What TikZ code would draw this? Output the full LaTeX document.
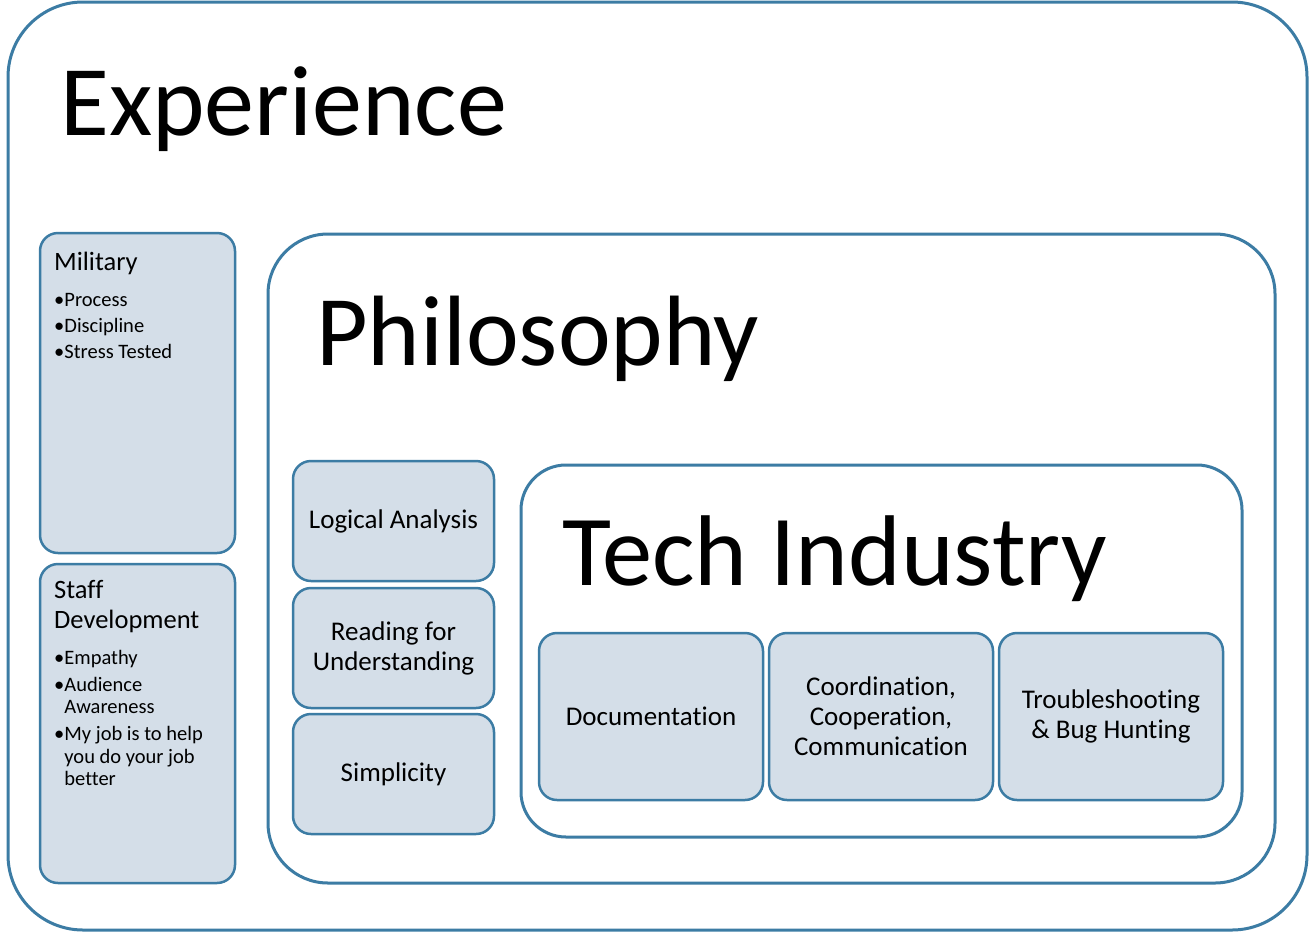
\documentclass[tikz,border=0pt]{standalone}
\usepackage{fontspec}
\setmainfont[Ligatures=NoCommon]{Carlito}
\definecolor{edgeblue}{RGB}{60,124,164}
\definecolor{itemfill}{RGB}{212,222,232}
\tikzset{
  levelbox/.style={draw=edgeblue, line width=3pt, fill=white, inner sep=0pt},
  itembox/.style={draw=edgeblue, line width=2.5pt, fill=itemfill, rounded corners=18pt,
    inner sep=0pt, align=center, font=\fontsize{27}{30}\selectfont},
  bigtitle/.style={anchor=base west, inner sep=0pt, font=\fontsize{100}{120}\selectfont},
  sidetitle/.style={anchor=base west, inner sep=0pt, align=left, font=\fontsize{26.5}{30}\selectfont},
  sidelist/.style={anchor=base west, inner sep=0pt, font=\fontsize{20.5}{22.5}\selectfont}
}

\begin{document}
\begin{tikzpicture}[x=1pt,y=-1pt]
\useasboundingbox (0,0) rectangle (1309,932);

% nested levels
\node[levelbox, rounded corners=75pt, minimum width=1299pt, minimum height=928pt] (exp) at (657.5,466) {};
\node[levelbox, rounded corners=60pt, minimum width=1007pt, minimum height=649pt] (phil) at (771.5,558.5) {};
\node[levelbox, rounded corners=45pt, minimum width=721pt, minimum height=372pt] (tech) at (881.5,651) {};

\node[bigtitle] (exptitle) at (60,135) {Experience};
\node[bigtitle] (philtitle) at (316,365) {Philosophy};
\node[bigtitle, font=\fontsize{100.5}{120}\selectfont] (techtitle) at (562,585) {Tech Industry};

% side boxes
\node[itembox, minimum width=195pt, minimum height=320pt] (mil) at (137.5,393) {};
\node[itembox, minimum width=195pt, minimum height=319pt] (staff) at (137.5,723.5) {};

\node[sidetitle] (miltitle) at (54,270) {Military};
\node[sidelist] (millist) at (54,306) {\begin{tabular}[t]{@{}l@{}l@{}}
  •&Process\\[3.5pt]
  •&Discipline\\[3.5pt]
  •&Stress Tested
\end{tabular}};

\node[sidetitle] (stafftitle) at (54,598) {\begin{tabular}[t]{@{}l@{}}Staff\\Development\end{tabular}};
\node[sidelist] (stafflist) at (54,664) {\begin{tabular}[t]{@{}l@{}l@{}}
  •&Empathy\\[4.5pt]
  •&Audience\\
   &Awareness\\[4.5pt]
  •&My job is to help\\
   &you do your job\\
   &better
\end{tabular}};

% philosophy items
\node[itembox, minimum width=201pt, minimum height=120pt] (logic) at (393.5,521) {Logical Analysis};
\node[itembox, minimum width=201pt, minimum height=120pt] (reading) at (393.5,648) {Reading for\\Understanding};
\node[itembox, minimum width=201pt, minimum height=120pt] (simple) at (393.5,774) {Simplicity};

% tech industry items
\node[itembox, minimum width=224pt, minimum height=167pt] (docs) at (651,716.5) {Documentation};
\node[itembox, minimum width=224pt, minimum height=167pt] (coord) at (881,716.5) {Coordination,\\Cooperation,\\Communication};
\node[itembox, minimum width=224pt, minimum height=167pt] (bugs) at (1111,716.5) {Troubleshooting\\\& Bug Hunting};

\end{tikzpicture}
\end{document}
